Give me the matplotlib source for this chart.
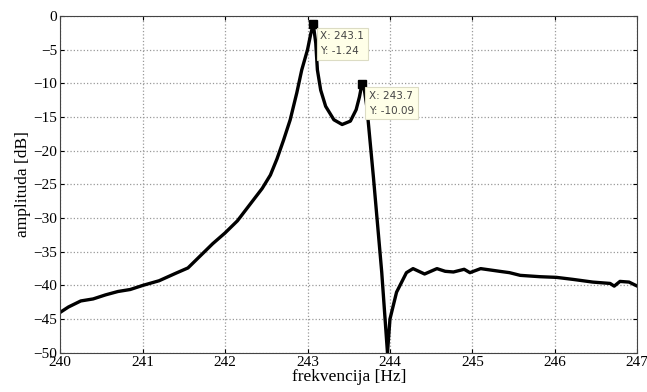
import numpy as np
import matplotlib.pyplot as plt

# amplitude response
freq = [240.0, 240.1, 240.25, 240.4, 240.55, 240.7, 240.85, 241.0, 241.2, 241.4,
        241.55, 241.7, 241.85, 242.0, 242.15, 242.3, 242.45, 242.55, 242.63, 242.71,
        242.79, 242.87, 242.93, 243.0, 243.04, 243.07, 243.1, 243.12, 243.16, 243.22,
        243.32, 243.42, 243.52, 243.59, 243.63, 243.66, 243.69, 243.72,
        243.8, 243.9, 243.97,
        244.0, 244.08, 244.2, 244.28, 244.42, 244.57, 244.67, 244.77, 244.9, 244.97,
        245.1, 245.33, 245.45, 245.58, 245.82, 246.02, 246.22, 246.46, 246.67, 246.72,
        246.79, 246.9, 247.0]
amp = [-44.0, -43.2, -42.3, -42.0, -41.4, -40.9, -40.6, -40.0, -39.3, -38.2,
       -37.4, -35.6, -33.8, -32.2, -30.4, -28.0, -25.6, -23.6, -21.2, -18.4,
       -15.4, -11.4, -8.0, -5.0, -2.6, -1.24, -4.0, -8.0, -11.0, -13.4,
       -15.4, -16.1, -15.6, -13.9, -12.0, -10.09, -11.0, -13.5,
       -24.0, -38.0, -50.0,
       -45.0, -41.0, -38.1, -37.5, -38.3, -37.5, -37.9, -38.0, -37.6, -38.1,
       -37.5, -37.9, -38.1, -38.5, -38.7, -38.8, -39.1, -39.5, -39.7, -40.1,
       -39.4, -39.5, -40.1]

tips_x = [243.07, 243.66]
tips_y = [-1.24, -10.09]
tips_txt = ['X: 243.1\nY: -1.24', 'X: 243.7\nY: -10.09']

plt.rcParams['font.family'] = ['Liberation Serif', 'DejaVu Serif']

fig = plt.figure(figsize=(6.47, 3.92), dpi=100)
ax = fig.add_axes([0.093, 0.1, 0.892, 0.859])

ax.plot(freq, amp, color='black', linewidth=2.4, solid_joinstyle='round')
ax.plot(tips_x, tips_y, 's', color='black', markersize=5.5)

for x, y, t in zip(tips_x, tips_y, tips_txt):
    ax.annotate(t, (x, y), xytext=(5, -5), textcoords='offset points',
                ha='left', va='top', fontsize=7.5, family='DejaVu Sans',
                color='#444444', linespacing=1.6,
                bbox=dict(boxstyle='square,pad=0.35', fc='#ffffe8', ec='#dcdcc4', lw=0.8))

ax.set_xlim(240, 247)
ax.set_ylim(-50, 0)
ax.set_xticks(np.arange(240, 248, 1))
ax.set_yticks(np.arange(-50, 1, 5))
ax.grid(True, linestyle=':', color='#999999', linewidth=0.9)
ax.tick_params(direction='in', top=True, right=True, labelsize=11, length=3, pad=2)
for s in ax.spines.values():
    s.set_color('#444444')

ax.set_xlabel('frekvencija [Hz]', fontsize=12.5, labelpad=0)
ax.set_ylabel('amplituda [dB]', fontsize=12.5, labelpad=2)

fig.savefig('out.png', dpi=100)
